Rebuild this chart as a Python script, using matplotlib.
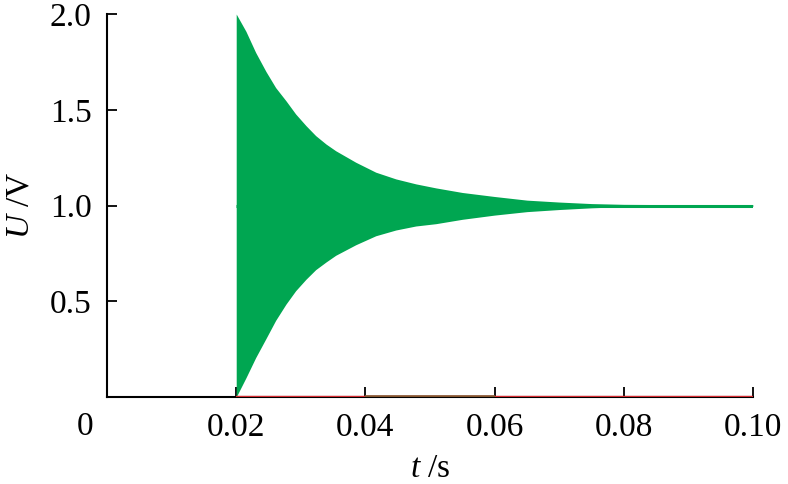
import matplotlib
matplotlib.use("Agg")
import matplotlib.pyplot as plt
import matplotlib.transforms as mtransforms

plt.rcParams["font.family"] = ["Liberation Serif", "DejaVu Serif"]
plt.rcParams["mathtext.fontset"] = "custom"
plt.rcParams["mathtext.rm"] = "Liberation Serif"
plt.rcParams["mathtext.it"] = "Liberation Serif:italic"

# envelope of the oscillating voltage
t_env = [0.0200, 0.0215, 0.0230, 0.0246, 0.0261, 0.0277, 0.0292, 0.0308, 0.0323,
         0.0339, 0.0354, 0.0385, 0.0416, 0.0447, 0.0478, 0.0509, 0.0550, 0.0600,
         0.0650, 0.0700, 0.0750, 0.0800, 0.0900, 0.1000]
u_upper = [2.00, 1.91, 1.80, 1.70, 1.616, 1.547, 1.478, 1.417, 1.365,
           1.321, 1.286, 1.226, 1.174, 1.139, 1.113, 1.092, 1.068, 1.047,
           1.028, 1.018, 1.010, 1.006, 1.004, 1.003]
u_lower = [0.00, 0.10, 0.205, 0.305, 0.40, 0.485, 0.555, 0.615, 0.665,
           0.705, 0.74, 0.795, 0.842, 0.872, 0.893, 0.905, 0.928, 0.950,
           0.968, 0.979, 0.988, 0.994, 0.996, 0.997]
t_mean = [0.02, 0.10]
u_mean = [1.0, 1.0]

# signals lying on zero
t_red = [0.02, 0.10]
u_red = [0.0, 0.0]
t_brown = [0.04, 0.06]
u_brown = [0.0, 0.0]

x_ticks = [0.02, 0.04, 0.06, 0.08, 0.10]
x_ticklabels = ["0.02", "0.04", "0.06", "0.08", "0.10"]
y_ticks = [0.5, 1.0, 1.5, 2.0]
y_ticklabels = ["0.5", "1.0", "1.5", "2.0"]

green = "#00a651"
red = "#d52b30"
brown = "#84552f"

fig = plt.figure(figsize=(7.88, 4.84), dpi=100)
ax = fig.add_axes([0.1358, 0.1798, 0.9556 - 0.1358, 0.971 - 0.1798])

ax.fill_between(t_env, u_upper, u_lower, color=green, linewidth=0, zorder=2)
ax.plot(t_mean, u_mean, color=green, linewidth=2.2, solid_capstyle="butt", zorder=2)
ax.plot(t_red, u_red, color=red, linewidth=1.7, solid_capstyle="butt", zorder=3)
ax.plot(t_brown, u_brown, color=brown, linewidth=2.6, solid_capstyle="butt", zorder=4)

ax.set_xlim(0, 0.10)
ax.set_ylim(0, 2.0)
for side in ("top", "right"):
    ax.spines[side].set_visible(False)
for side in ("left", "bottom"):
    ax.spines[side].set_linewidth(1.5)
    ax.spines[side].set_zorder(1)

ax.set_xticks(x_ticks)
ax.set_xticklabels(x_ticklabels)
ax.set_yticks(y_ticks)
ax.set_yticklabels(y_ticklabels)
ax.tick_params(direction="in", length=7, width=1.3, labelsize=24)
ax.tick_params(axis="x", pad=11)
ax.tick_params(axis="y", pad=11)

# shared origin label
offset = mtransforms.offset_copy(ax.transData, fig=fig, x=-22 / 100 * 72, y=-30 / 100 * 72, units="points")
ax.text(0, 0, "0", transform=offset, fontsize=24, ha="center", va="center")

ax.set_xlabel("$t$ /s", fontsize=24, labelpad=8)
ax.set_ylabel("$U$ /V", fontsize=24, labelpad=10)

fig.savefig("out.png", dpi=100)
